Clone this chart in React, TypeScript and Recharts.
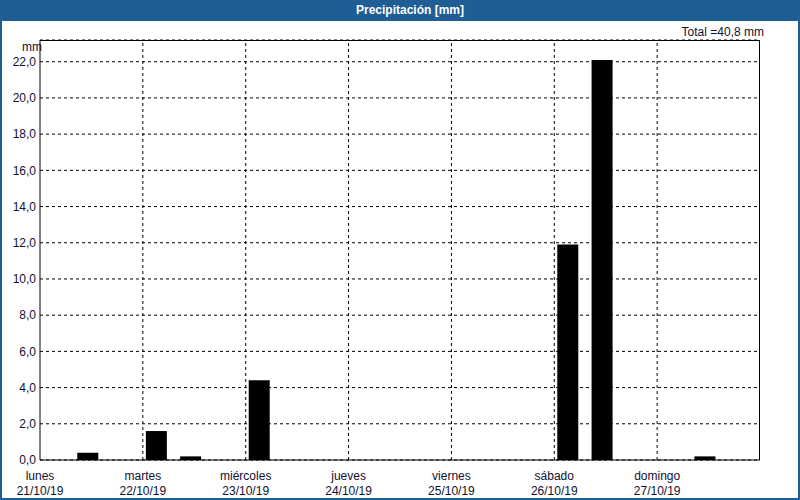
import React from "react";
import {
  BarChart,
  Bar,
  XAxis,
  YAxis,
  CartesianGrid,
  ReferenceLine,
} from "recharts";

// one slot every 8 hours, three per day
const days = ["lunes", "martes", "miércoles", "jueves", "viernes", "sábado", "domingo"];
const dates = ["21/10/19", "22/10/19", "23/10/19", "24/10/19", "25/10/19", "26/10/19", "27/10/19"];
const hours = ["00h", "08h", "16h"];
const rain = [
  0, 0.4, 0,
  1.6, 0.2, 0,
  4.4, 0, 0,
  0, 0, 0,
  0, 0, 0,
  11.9, 22.1, 0,
  0, 0.2, 0,
];
const yTicks = [0, 2, 4, 6, 8, 10, 12, 14, 16, 18, 20, 22];
const total = "40,8";

const data = rain.map((v, i) => ({
  slot: dates[Math.floor(i / 3)] + " " + hours[i % 3],
  mm: v,
}));
const dayStarts = dates.slice(1).map((d) => d + " " + hours[0]);

const FONT = "'Liberation Sans', Arial, sans-serif";
const TEXT = "#101030";
const BLUE = "#1f5e94";
const PLOT_W = 720;
const HALF_SLOT = PLOT_W / rain.length / 2;

const fmt = (v: number) => v.toFixed(1).replace(".", ",");

// label only the first slot of each day, centred on the day boundary
const DayTick = (props: any) => {
  const { x, y } = props;
  const d = data.findIndex((r) => r.slot === props.payload.value) / 3;
  if (d % 1 !== 0) return null;
  const cx = x - HALF_SLOT;
  return (
    <g>
      <text x={cx} y={y + 20} textAnchor="middle" fontSize={12} fontFamily={FONT} fill={TEXT}>
        {days[d]}
      </text>
      <text x={cx} y={y + 35} textAnchor="middle" fontSize={12} fontFamily={FONT} fill={TEXT}>
        {dates[d]}
      </text>
    </g>
  );
};

export default function App() {
  return (
    <div
      style={{
        position: "fixed",
        left: 0,
        top: 0,
        width: 800,
        height: 500,
        boxSizing: "border-box",
        border: `2px solid ${BLUE}`,
        background: "#fff",
        fontFamily: FONT,
      }}
    >
      <div
        style={{
          position: "absolute",
          left: -2,
          top: -2,
          width: 800,
          height: 21,
          background: BLUE,
          color: "#fff",
          fontWeight: "bold",
          fontSize: 12,
          lineHeight: "21px",
          textAlign: "center",
          paddingLeft: 20,
          boxSizing: "border-box",
        }}
      >
        Precipitación [mm]
      </div>
      <div style={{ position: "absolute", right: 34, top: 23, fontSize: 12, color: TEXT }}>
        Total ={total} mm
      </div>
      <div style={{ position: "absolute", left: 20, top: 38, fontSize: 12, color: TEXT }}>mm</div>
      <div style={{ position: "absolute", left: -2, top: -2 }}>
        <BarChart
          width={800}
          height={500}
          data={data}
          margin={{ top: 40, right: 40, left: 0, bottom: 0 }}
          barGap={0}
        >
          <CartesianGrid stroke="#000" strokeDasharray="3 3" vertical={false} />
          <XAxis
            dataKey="slot"
            height={40}
            interval={0}
            tickLine={false}
            tickSize={0}
            tickMargin={0}
            axisLine={{ stroke: "#000" }}
            tick={<DayTick />}
          />
          <YAxis
            domain={[0, 23.2]}
            ticks={yTicks}
            width={40}
            tickLine={false}
            tickSize={4}
            tickMargin={0}
            axisLine={{ stroke: "#000" }}
            tickFormatter={fmt}
            tick={{ fontSize: 12, fill: TEXT, fontFamily: FONT }}
            interval={0}
          />
          {dayStarts.map((s) => (
            <ReferenceLine
              key={s}
              x={s}
              position="start"
              stroke="#000"
              strokeDasharray="3 3"
            />
          ))}
          <Bar dataKey="mm" fill="#000" barSize={21} isAnimationActive={false} />
          <Bar dataKey="pad" fill="none" barSize={8} isAnimationActive={false} />
        </BarChart>
      </div>
      <div
        style={{
          position: "absolute",
          left: 38,
          top: 38,
          width: PLOT_W,
          height: 420,
          borderTop: "1px solid #000",
          borderRight: "1px solid #000",
          boxSizing: "border-box",
          pointerEvents: "none",
        }}
      />
    </div>
  );
}
